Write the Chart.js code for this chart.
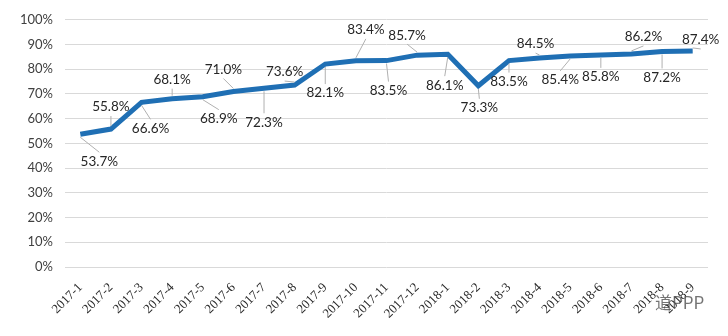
<!DOCTYPE html>
<html>
<head>
<meta charset="utf-8">
<script src="https://cdn.jsdelivr.net/npm/chart.js@4"></script>
<style>
  html, body { margin: 0; padding: 0; background: #fff; }
  #box { width: 728px; height: 336px; position: relative; }
</style>
</head>
<body>
<div id="box"><canvas id="rateChart"></canvas></div>
<script>
// Datos
const months = ['2017-1', '2017-2', '2017-3', '2017-4', '2017-5', '2017-6', '2017-7',
  '2017-8', '2017-9', '2017-10', '2017-11', '2017-12', '2018-1', '2018-2', '2018-3',
  '2018-4', '2018-5', '2018-6', '2018-7', '2018-8', '2018-9'];
const rates = [53.7, 55.8, 66.6, 68.1, 68.9, 71.0, 72.3, 73.6, 82.1, 83.4, 83.5,
  85.7, 86.1, 73.3, 83.5, 84.5, 85.4, 85.8, 86.2, 87.2, 87.4];
const yTicks = [0, 10, 20, 30, 40, 50, 60, 70, 80, 90, 100];

// Posicion de cada etiqueta respecto a su punto (px)
const labelOffsets = [
  [19, 27], [0, -22], [9, 26], [0, -19], [16, 22], [-10, -22], [0, 34],
  [-10, -13], [0, 29], [10, -31], [2, 30], [-10, -20], [-3, 31], [1, 22],
  [0, 21], [-4, -14], [-10, 24], [0, 22], [12, -17], [0, 26], [8, -11]
];

const FONT = 'Lato, "Liberation Sans", sans-serif';

// Etiquetas con lineas guia (estilo Excel)
const pointLabels = {
  id: 'pointLabels',
  afterDatasetsDraw(chart) {
    const ctx = chart.ctx;
    const meta = chart.getDatasetMeta(0);
    ctx.save();
    ctx.font = '13.5px ' + FONT;
    ctx.textAlign = 'center';
    ctx.textBaseline = 'middle';
    meta.data.forEach((pt, i) => {
      const [dx, dy] = labelOffsets[i];
      const lx = pt.x + dx;
      const ly = pt.y + dy;
      const endY = dy > 0 ? ly - 9 : ly + 9;
      const len = Math.hypot(lx - pt.x, endY - pt.y);
      if (len > 6) {
        ctx.strokeStyle = '#b0b0b0';
        ctx.lineWidth = 1;
        ctx.beginPath();
        ctx.moveTo(pt.x, pt.y + (dy > 0 ? 3 : -3));
        ctx.lineTo(lx, endY);
        ctx.stroke();
      }
      ctx.fillStyle = '#262626';
      ctx.fillText(rates[i].toFixed(1) + '%', lx, ly);
    });
    // marca de agua
    ctx.font = '17px "Noto Sans CJK SC", sans-serif';
    ctx.fillStyle = 'rgba(80,80,80,0.8)';
    ctx.textAlign = 'left';
    ctx.fillText('道PPP', 655, 303);
    ctx.restore();
  }
};

const ctx = document.getElementById('rateChart').getContext('2d');
const chart = new Chart(ctx, {
  type: 'line',
  data: {
    labels: months,
    datasets: [{
      data: rates,
      borderColor: '#1f6fb4',
      borderWidth: 5,
      pointRadius: 0,
      fill: false,
      tension: 0
    }]
  },
  options: {
    responsive: true,
    maintainAspectRatio: false,
    animation: false,
    layout: { padding: { top: 18, right: 20, left: 0, bottom: 0 } },
    plugins: {
      legend: { display: false },
      title: { display: false },
      tooltip: { enabled: false }
    },
    scales: {
      x: {
        offset: true,
        grid: { display: false },
        border: { display: false },
        ticks: {
          autoSkip: false,
          minRotation: 45,
          maxRotation: 45,
          padding: 5,
          color: '#2a2a2a',
          font: { family: '"Liberation Serif", serif', size: 13 }
        },
        afterFit(scale) { scale.height = 69; }
      },
      y: {
        min: 0,
        max: 100,
        afterBuildTicks(scale) { scale.ticks = yTicks.map(v => ({ value: v })); },
        grid: { color: '#d9d9d9', lineWidth: 1, drawTicks: false },
        border: { display: false },
        ticks: {
          padding: 12,
          color: '#404040',
          font: { family: FONT, size: 13 },
          callback: (v) => v + '%'
        },
        afterFit(scale) { scale.width = 65; }
      }
    }
  },
  plugins: [pointLabels]
});
</script>
</body>
</html>
